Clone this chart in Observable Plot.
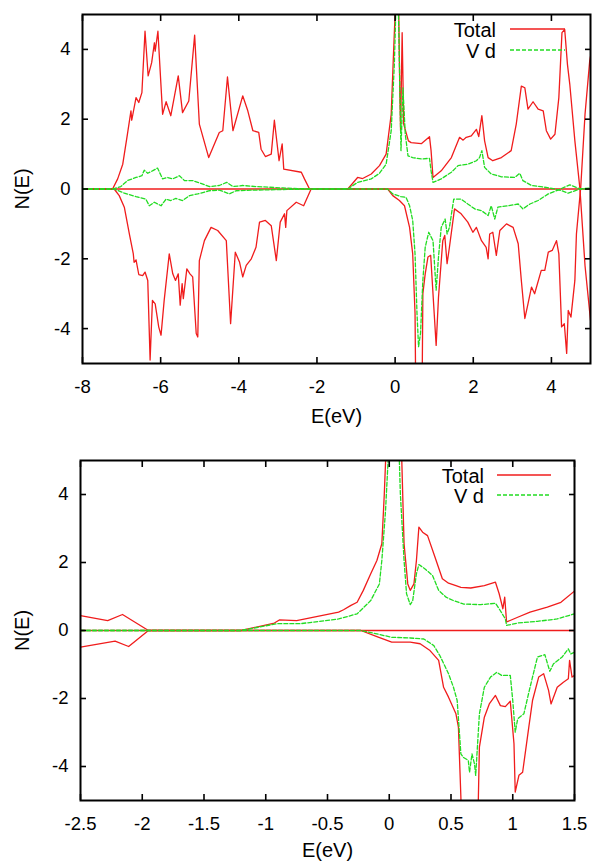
<!DOCTYPE html>
<html><head><meta charset="utf-8">
<script src="https://cdn.jsdelivr.net/npm/d3@7"></script>
<script src="https://cdn.jsdelivr.net/npm/@observablehq/plot@0.6"></script>
<style>
html,body{margin:0;padding:0;background:#fff;}
#wrap{width:593px;height:861px;}
#wrap svg{display:block;}
</style></head><body><div id="wrap"></div>
<script>
// ---------- data: [E (eV), N(E)] ----------
// top panel (E from -8 to 5)
const topTotalUp = [[-8,0],[-7.23,0],[-7.10,0.29],[-6.97,0.71],[-6.85,1.57],[-6.76,2.24],[-6.74,1.97],[-6.63,2.62],[-6.56,2.48],[-6.48,2.76],[-6.40,4.52],[-6.32,3.24],[-6.23,3.62],[-6.16,4.19],[-6.14,3.95],[-6.07,4.52],[-5.95,2.14],[-5.86,2.50],[-5.74,2.10],[-5.55,3.24],[-5.44,2.19],[-5.28,2.52],[-5.13,4.41],[-5.01,1.86],[-4.77,0.90],[-4.50,1.62],[-4.41,1.67],[-4.29,3.21],[-4.15,1.67],[-3.90,2.67],[-3.77,2.24],[-3.64,1.67],[-3.49,1.62],[-3.43,1.14],[-3.32,0.93],[-3.17,1.0],[-3.09,1.97],[-2.97,0.81],[-2.89,1.29],[-2.85,0.57],[-2.40,0.48],[-2.32,0.29],[-2.19,0],[-1.21,0],[-0.96,0.33],[-0.83,0.30],[-0.61,0.43],[-0.40,0.67],[-0.23,1.0],[-0.10,2.14],[-0.03,4.2],[0.01,5.3],[0.045,7.5],[0.09,5.3],[0.12,2.8],[0.14,1.67],[0.18,4.48],[0.22,1.86],[0.34,1.38],[0.41,1.33],[0.67,1.30],[0.88,1.50],[0.92,1.10],[0.97,0.33],[1.18,0.52],[1.44,0.90],[1.65,1.48],[1.74,1.40],[1.82,1.48],[1.95,1.52],[2.08,1.71],[2.14,1.50],[2.22,2.10],[2.29,1.38],[2.38,0.90],[2.50,0.81],[2.72,0.90],[2.97,1.10],[3.10,1.86],[3.23,2.95],[3.32,2.90],[3.40,2.29],[3.53,2.50],[3.66,2.29],[3.79,2.24],[3.87,1.67],[3.98,1.43],[4.09,1.57],[4.19,2.62],[4.27,4.48],[4.34,4.57],[4.41,3.57],[4.47,3.0],[4.60,1.38],[4.73,0],[4.86,-2.2],[5.0,-3.76]];
const topTotalDn = [[-8,0],[-7.19,0],[-7.06,-0.19],[-6.93,-0.52],[-6.80,-1.29],[-6.70,-1.86],[-6.68,-2.10],[-6.63,-2.03],[-6.56,-2.45],[-6.46,-2.48],[-6.40,-2.38],[-6.33,-2.62],[-6.27,-4.90],[-6.21,-3.19],[-6.14,-3.29],[-6.05,-3.95],[-5.99,-4.19],[-5.91,-3.19],[-5.78,-1.86],[-5.69,-2.43],[-5.62,-2.62],[-5.55,-2.43],[-5.50,-3.33],[-5.45,-2.71],[-5.42,-3.14],[-5.33,-2.29],[-5.25,-2.43],[-5.18,-2.52],[-5.09,-4.14],[-5.05,-4.24],[-5.01,-2.05],[-4.88,-1.48],[-4.71,-1.10],[-4.54,-1.19],[-4.32,-1.48],[-4.21,-3.86],[-4.09,-1.81],[-3.98,-2.10],[-3.90,-2.52],[-3.81,-2.19],[-3.68,-2.0],[-3.56,-1.67],[-3.47,-0.95],[-3.32,-0.90],[-3.17,-1.05],[-3.04,-2.05],[-2.94,-0.95],[-2.83,-0.71],[-2.80,-1.10],[-2.77,-0.62],[-2.53,-0.38],[-2.34,-0.48],[-2.15,0],[-0.19,0],[-0.06,-0.19],[0.11,-0.33],[0.24,-0.48],[0.37,-1.10],[0.45,-1.86],[0.51,-3.57],[0.545,-8],[0.675,-8],[0.71,-3.0],[0.77,-2.43],[0.84,-1.95],[0.91,-1.90],[0.99,-3.38],[1.05,-4.48],[1.11,-3.10],[1.22,-1.48],[1.27,-1.33],[1.33,-2.14],[1.39,-1.67],[1.52,-0.57],[1.69,-0.71],[1.86,-0.95],[1.99,-1.24],[2.08,-1.10],[2.21,-1.48],[2.33,-1.67],[2.38,-2.0],[2.42,-1.29],[2.50,-1.24],[2.59,-1.90],[2.68,-1.19],[2.85,-1.0],[3.02,-1.10],[3.15,-1.57],[3.23,-2.62],[3.32,-3.71],[3.40,-3.29],[3.49,-2.81],[3.57,-3.0],[3.74,-2.33],[3.83,-2.33],[3.92,-1.81],[4.02,-1.76],[4.13,-1.48],[4.19,-1.86],[4.26,-3.95],[4.33,-3.86],[4.39,-4.71],[4.43,-3.48],[4.50,-3.67],[4.60,-2.62],[4.64,-1.29],[4.75,0.05],[4.86,2.14],[4.98,3.67],[5.0,3.8]];
const topVdUp = [[-8,0],[-7.23,0],[-7.02,0.07],[-6.85,0.24],[-6.63,0.33],[-6.48,0.38],[-6.42,0.54],[-6.33,0.45],[-6.21,0.52],[-6.08,0.60],[-5.95,0.29],[-5.82,0.33],[-5.69,0.29],[-5.52,0.38],[-5.39,0.24],[-5.18,0.24],[-4.97,0.16],[-4.75,0.07],[-4.50,0.10],[-4.31,0.19],[-4.15,0.07],[-3.90,0.10],[-3.56,0.07],[-2.87,0.03],[-2.19,0],[-1.21,0],[-0.96,0.19],[-0.61,0.29],[-0.40,0.45],[-0.23,0.71],[-0.10,1.67],[-0.02,3.57],[0.03,5.6],[0.06,6.2],[0.09,4.81],[0.15,1.10],[0.20,2.90],[0.26,1.57],[0.33,0.95],[0.45,0.90],[0.67,0.86],[0.88,0.88],[0.92,0.52],[0.97,0.19],[1.18,0.29],[1.44,0.48],[1.61,0.67],[1.86,0.71],[2.08,0.81],[2.16,0.90],[2.22,1.10],[2.29,0.62],[2.46,0.43],[2.72,0.35],[3.06,0.33],[3.19,0.45],[3.27,0.24],[3.49,0.10],[3.83,0.05],[4.09,0],[4.26,-0.05],[4.43,-0.12],[4.73,0],[5.0,0.03]];
const topVdDn = [[-8,0],[-7.19,0],[-6.93,-0.12],[-6.63,-0.22],[-6.38,-0.29],[-6.29,-0.48],[-6.16,-0.38],[-5.99,-0.48],[-5.86,-0.29],[-5.74,-0.33],[-5.61,-0.27],[-5.44,-0.33],[-5.26,-0.19],[-5.05,-0.14],[-4.75,-0.05],[-4.50,-0.03],[-4.24,-0.14],[-4.07,-0.05],[-3.56,-0.03],[-2.15,0],[-0.19,0],[-0.06,-0.14],[0.15,-0.22],[0.28,-0.24],[0.37,-0.48],[0.45,-0.90],[0.51,-1.86],[0.56,-3.57],[0.60,-4.52],[0.65,-4.14],[0.71,-2.62],[0.77,-1.67],[0.86,-1.24],[0.97,-1.48],[1.05,-2.90],[1.11,-1.95],[1.18,-1.10],[1.28,-0.86],[1.33,-1.29],[1.39,-1.10],[1.50,-0.29],[1.69,-0.29],[1.86,-0.43],[2.04,-0.57],[2.21,-0.62],[2.38,-0.76],[2.46,-0.48],[2.55,-0.86],[2.63,-0.52],[2.89,-0.48],[3.15,-0.43],[3.27,-0.57],[3.45,-0.43],[3.66,-0.33],[3.92,-0.14],[4.17,-0.03],[4.47,0.12],[4.73,0],[5.0,0]];

// bottom panel (E from -2.5 to 1.5)
const botTotalUp = [[-2.5,0.44],[-2.28,0.29],[-2.16,0.47],[-1.95,0],[-1.20,0],[-0.93,0.22],[-0.89,0.31],[-0.75,0.29],[-0.41,0.54],[-0.37,0.61],[-0.31,0.74],[-0.26,0.83],[-0.21,1.18],[-0.15,1.67],[-0.10,2.06],[-0.06,2.55],[-0.04,4.02],[0.035,11],[0.10,5.2],[0.12,2.55],[0.15,1.37],[0.17,1.18],[0.20,1.37],[0.22,2.06],[0.24,3.04],[0.27,2.89],[0.31,2.79],[0.37,2.16],[0.43,1.52],[0.48,1.39],[0.54,1.32],[0.58,1.27],[0.66,1.25],[0.77,1.32],[0.86,1.42],[0.89,1.08],[0.92,0.64],[0.935,0.98],[0.95,0.25],[1.04,0.39],[1.14,0.54],[1.28,0.69],[1.39,0.83],[1.5,1.16]];
const botTotalDn = [[-2.5,-0.49],[-2.22,-0.31],[-2.11,-0.47],[-1.95,0],[-0.23,0],[-0.10,-0.18],[0.02,-0.34],[0.17,-0.34],[0.25,-0.39],[0.33,-0.59],[0.40,-0.88],[0.44,-1.67],[0.48,-1.96],[0.54,-2.45],[0.56,-2.84],[0.58,-4.9],[0.60,-8],[0.70,-8],[0.72,-5.2],[0.73,-3.43],[0.77,-2.55],[0.81,-2.16],[0.86,-1.91],[0.90,-2.21],[0.94,-2.24],[0.98,-2.08],[1.01,-3.33],[1.02,-4.75],[1.05,-4.26],[1.08,-4.17],[1.13,-2.84],[1.16,-2.06],[1.21,-1.37],[1.25,-1.27],[1.29,-1.76],[1.31,-2.16],[1.36,-1.67],[1.41,-1.52],[1.45,-1.42],[1.46,-0.88],[1.48,-1.37],[1.5,-1.32]];
const botVdUp = [[-2.5,0],[-1.20,0],[-0.91,0.20],[-0.72,0.20],[-0.41,0.34],[-0.26,0.49],[-0.15,0.88],[-0.08,1.37],[-0.06,2.06],[-0.03,3.53],[0.04,8.5],[0.08,5.2],[0.09,4.02],[0.12,2.06],[0.14,1.08],[0.17,0.76],[0.19,0.88],[0.22,1.67],[0.24,1.94],[0.29,1.81],[0.35,1.62],[0.40,1.18],[0.46,0.98],[0.52,0.88],[0.60,0.78],[0.74,0.76],[0.86,0.80],[0.89,0.64],[0.94,0.34],[0.95,0.15],[1.04,0.22],[1.20,0.27],[1.36,0.34],[1.5,0.49]];
const botVdDn = [[-2.5,0],[-0.23,0],[-0.10,-0.10],[0.02,-0.20],[0.17,-0.22],[0.28,-0.25],[0.36,-0.44],[0.41,-0.74],[0.48,-1.27],[0.52,-1.67],[0.55,-2.06],[0.58,-3.63],[0.60,-3.73],[0.64,-3.82],[0.65,-4.17],[0.67,-3.63],[0.69,-3.92],[0.70,-4.26],[0.73,-2.45],[0.77,-1.67],[0.82,-1.37],[0.87,-1.23],[0.91,-1.32],[0.98,-1.32],[1.00,-2.06],[1.02,-2.99],[1.04,-2.60],[1.09,-2.45],[1.14,-1.67],[1.20,-0.78],[1.26,-0.71],[1.30,-1.20],[1.33,-0.98],[1.40,-0.78],[1.45,-0.54],[1.47,-0.69],[1.5,-0.64]];

// ticks and labels
const topXTicks = [-8,-6,-4,-2,0,2,4];
const botXTicks = [-2.5,-2,-1.5,-1,-0.5,0,0.5,1,1.5];
const yTicks = [-4,-2,0,2,4];
const seriesNames = ["Total","V d"];
const xLabel = "E(eV)", yLabel = "N(E)";

const RED = "#f01c1c", GREEN = "#22dc22";
const FONT = "'Liberation Sans', Arial, sans-serif";
const fmt = d => String(d);
const blank = () => "";

function makePanel(cfg) {
  const {xDomain, xTicks, totalUp, totalDn, vdUp, vdDn, height, margins, labelOffsetX, labelOffsetY, legend} = cfg;
  const line = (data, stroke, dash) => Plot.line(data, {x: d => d[0], y: d => d[1], stroke, strokeWidth: 1.3, strokeDasharray: dash, clip: true, curve: "linear"});
  const svg = Plot.plot({
    width: 593, height, ...margins,
    style: {fontFamily: FONT, fontSize: "18.5px", color: "#000", background: "#fff", overflow: "visible"},
    x: {domain: xDomain},
    y: {domain: [-5, 5]},
    marks: [
      line(totalUp, RED),
      line(totalDn, RED),
      Plot.ruleY([0], {stroke: RED, strokeWidth: 1.3}),
      line(vdUp, GREEN, "4,2"),
      line(vdDn, GREEN, "4,2"),
      Plot.axisX({ticks: xTicks, anchor: "bottom", tickSize: 0, tickPadding: 16, tickFormat: fmt, label: xLabel, labelAnchor: "center", labelOffset: labelOffsetX, labelArrow: "none"}),
      Plot.axisX({ticks: xTicks, anchor: "bottom", tickSize: 6, dy: -6, tickFormat: blank, label: null, strokeWidth: 1.6}),
      Plot.axisX({ticks: xTicks, anchor: "top", tickSize: 6, dy: 6, tickFormat: blank, label: null, strokeWidth: 1.6}),
      Plot.axisY({ticks: yTicks, anchor: "left", tickSize: 0, tickPadding: 12, tickFormat: fmt, label: yLabel, labelAnchor: "center", labelOffset: labelOffsetY, labelArrow: "none"}),
      Plot.axisY({ticks: yTicks, anchor: "left", tickSize: 6, dx: 6, tickFormat: blank, label: null, strokeWidth: 1.6}),
      Plot.axisY({ticks: yTicks, anchor: "right", tickSize: 6, dx: -6, tickFormat: blank, label: null, strokeWidth: 1.6}),
      Plot.frame({stroke: "#000", strokeWidth: 2})
    ]
  });
  // larger axis titles
  d3.select(svg).selectAll('g[aria-label="x-axis label"], g[aria-label="y-axis label"]').attr("font-size", 20);
  // legend (key), drawn in the plot's svg
  const g = d3.select(svg).append("g").attr("font-family", FONT).attr("font-size", 20);
  seriesNames.forEach((name, i) => {
    g.append("text").attr("x", legend.textX).attr("y", legend.baselines[i]).attr("text-anchor", "end").attr("fill", "#000").text(name);
    g.append("line").attr("x1", legend.x1).attr("x2", legend.x2).attr("y1", legend.lines[i]).attr("y2", legend.lines[i])
      .attr("stroke", i === 0 ? RED : GREEN).attr("stroke-width", 1.3).attr("stroke-dasharray", i === 0 ? null : "4,2");
  });
  return svg;
}

const wrap = document.getElementById("wrap");
wrap.appendChild(makePanel({
  xDomain: [-8, 5], xTicks: topXTicks, totalUp: topTotalUp, totalDn: topTotalDn, vdUp: topVdUp, vdDn: topVdDn,
  height: 430, margins: {marginTop: 14, marginBottom: 67, marginLeft: 82, marginRight: 3},
  labelOffsetX: 59, labelOffsetY: 68,
  legend: {textX: 496, baselines: [37, 58], lines: [29, 50], x1: 510, x2: 565}
}));
wrap.appendChild(makePanel({
  xDomain: [-2.5, 1.5], xTicks: botXTicks, totalUp: botTotalUp, totalDn: botTotalDn, vdUp: botVdUp, vdDn: botVdDn,
  height: 431, margins: {marginTop: 30, marginBottom: 61, marginLeft: 80, marginRight: 19},
  labelOffsetX: 56, labelOffsetY: 66,
  legend: {textX: 484, baselines: [53, 73], lines: [45, 65], x1: 497, x2: 551}
}));
</script></body></html>
